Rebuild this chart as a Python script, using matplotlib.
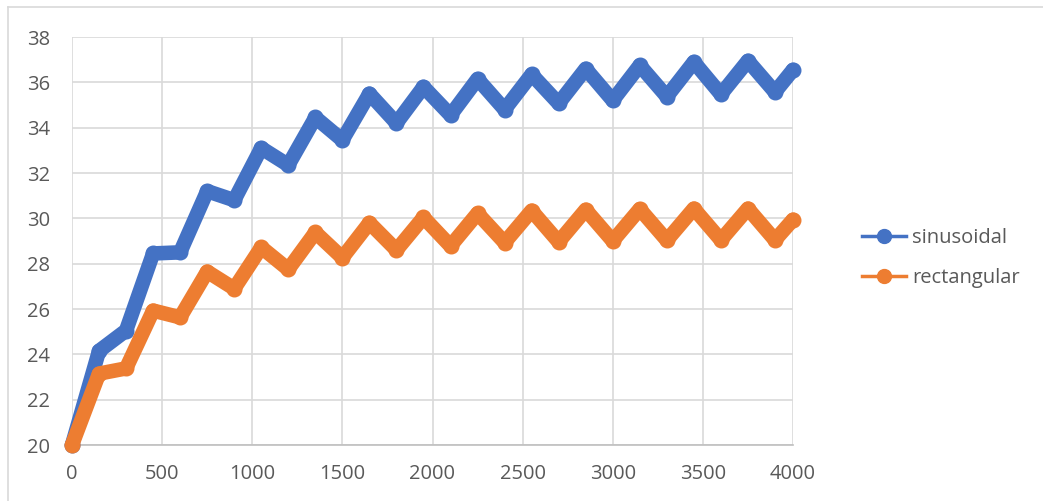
import matplotlib.pyplot as plt
from matplotlib.lines import Line2D

# time steps (every 150 up to 3900, then the final 4000)
x = [0, 150, 300, 450, 600, 750, 900, 1050, 1200, 1350, 1500, 1650, 1800, 1950,
     2100, 2250, 2400, 2550, 2700, 2850, 3000, 3150, 3300, 3450, 3600, 3750, 3900, 4000]

sinusoidal = [20.0, 24.15, 25.05, 28.45, 28.5, 31.2, 30.8, 33.1, 32.35, 34.45, 33.45,
              35.5, 34.2, 35.8, 34.55, 36.15, 34.8, 36.35, 35.07, 36.6, 35.2, 36.75,
              35.37, 36.9, 35.47, 36.95, 35.57, 36.55]

rectangular = [20.0, 23.15, 23.38, 25.93, 25.63, 27.65, 26.9, 28.72, 27.75, 29.38, 28.26,
               29.8, 28.6, 30.04, 28.78, 30.22, 28.93, 30.34, 28.96, 30.38, 29.0, 30.41,
               29.03, 30.43, 29.04, 30.43, 29.04, 29.94]

blue = '#4472c4'
orange = '#ed7d31'
txt = '#595959'

plt.rcParams['font.family'] = ['Open Sans', 'DejaVu Sans']

fig = plt.figure(figsize=(10.43, 5.01), dpi=100)
ax = fig.add_axes([72 / 1043, 1 - 445 / 501, (793 - 72) / 1043, (445 - 37) / 501])

ax.plot(x, sinusoidal, color=blue, lw=10.5, marker='o', ms=10.5, clip_on=False,
        solid_joinstyle='round', solid_capstyle='round', label='sinusoidal', zorder=3)
ax.plot(x, rectangular, color=orange, lw=10.5, marker='o', ms=10.5, clip_on=False,
        solid_joinstyle='round', solid_capstyle='round', label='rectangular', zorder=3)

ax.set_xlim(0, 4000)
ax.set_ylim(20, 38)
ax.set_xticks(range(0, 4001, 500))
ax.set_yticks(range(20, 39, 2))
ax.grid(True, color='#d9d9d9', lw=1.2)
ax.set_axisbelow(True)
for s in ['top', 'right', 'left']:
    ax.spines[s].set_visible(False)
ax.spines['bottom'].set_color('#bfbfbf')
ax.spines['bottom'].set_linewidth(1.2)
ax.tick_params(length=0, labelsize=14.5, labelcolor=txt)
ax.tick_params(axis='x', pad=14)
ax.tick_params(axis='y', pad=16)

handles = [Line2D([], [], color=blue, lw=2.5, marker='o', ms=10),
           Line2D([], [], color=orange, lw=2.5, marker='o', ms=10)]
fig.legend(handles, ['sinusoidal', 'rectangular'], loc='center left',
           bbox_to_anchor=(844 / 1043, 1 - 258 / 501), frameon=False,
           fontsize=14.5, labelcolor=txt, handlelength=2.2, handletextpad=0.3,
           labelspacing=1.0)

# chart area border (left and top edges)
fig.add_artist(Line2D([8 / 1043, 8 / 1043], [0, 1 - 7 / 501], color='#d9d9d9', lw=1.2))
fig.add_artist(Line2D([8 / 1043, 1], [1 - 7 / 501, 1 - 7 / 501], color='#d9d9d9', lw=1.2))

fig.savefig('out.png', dpi=100)
